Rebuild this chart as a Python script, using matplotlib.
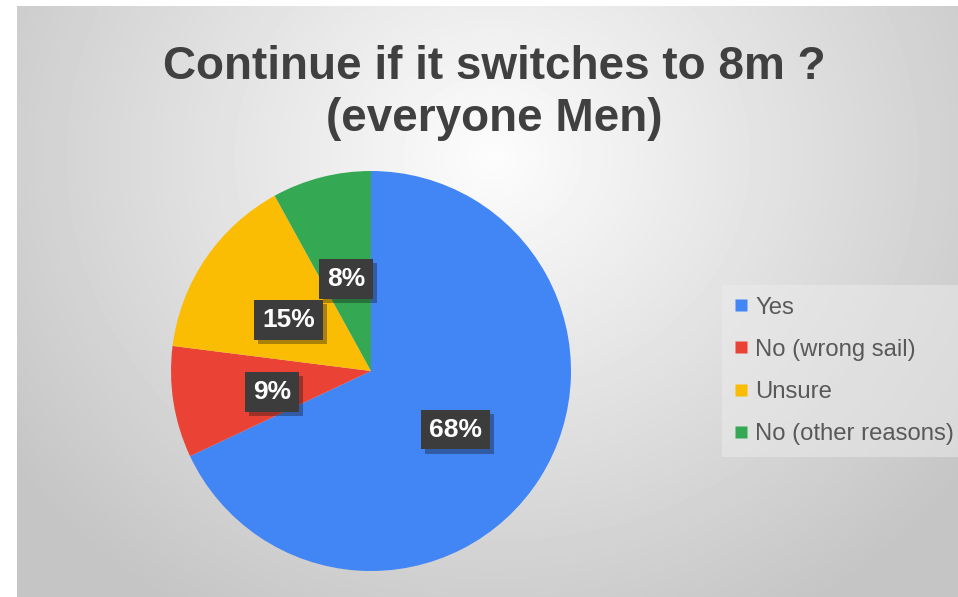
import numpy as np
import matplotlib.pyplot as plt
from matplotlib.lines import Line2D
import matplotlib.patheffects as pe

plt.rcParams['font.family'] = ['Liberation Sans', 'DejaVu Sans']

# data
labels = ["Yes", "No (wrong sail)", "Unsure", "No (other reasons)"]
values = [68, 9, 15, 8]
colors = ["#4285F4", "#EA4335", "#FBBC04", "#34A853"]
title = "Continue if it switches to 8m ?\n(everyone Men)"

W, H = 958, 597
fig = plt.figure(figsize=(W / 100, H / 100), dpi=100)
fig.patch.set_facecolor("white")

# radial gray background
bg = fig.add_axes([17 / W, 0, (W - 17) / W, (H - 6) / H])
bg.set_axis_off()
yy, xx = np.mgrid[0:591, 0:941]
d = np.sqrt(((xx - 475) / 620.0) ** 2 + ((yy - 150) / 560.0) ** 2)
shade = np.clip(0.99 - 0.23 * d, 0.77, 0.99)
bg.imshow(shade, cmap="gray", vmin=0, vmax=1, aspect="auto", interpolation="bilinear")

# pie
ax = fig.add_axes([171 / W, (H - 571) / H, 400 / W, 400 / H])
wedges, _, autotexts = ax.pie(values, colors=colors, startangle=90, counterclock=False,
                              radius=1, autopct="%1.0f%%", pctdistance=0.5,
                              textprops=dict(color="white", fontsize=19, fontweight="bold"))
ax.set_xlim(-1, 1)
ax.set_ylim(-1, 1)
ax.set_aspect("equal")
ax.set_axis_off()
for t in autotexts:
    x, y = t.get_position()
    t.set_position((x, y - 0.025))
    t.set_bbox(dict(boxstyle="square,pad=0.3", facecolor="#3c3c3c", edgecolor="none"))
    t.get_bbox_patch().set_path_effects([pe.SimplePatchShadow(offset=(3, -3), alpha=0.35),
                                         pe.Normal()])

# title
fig.text(494 / W, 1 - 93 / H, title, ha="center", va="center", fontsize=33,
         fontweight="bold", color="#404040", linespacing=1.25)

# legend
handles = [Line2D([], [], marker="s", linestyle="none", markersize=8.5,
                  markerfacecolor=c, markeredgecolor="none") for c in colors]
leg = fig.legend(handles, labels, loc="center left", bbox_to_anchor=(722 / W, 1 - 371 / H),
                 frameon=True, fontsize=17.2, labelspacing=0.85, handlelength=0.6,
                 handletextpad=0.3, borderpad=0.5, borderaxespad=0, fancybox=False)
leg.get_frame().set_facecolor("#ececec")
leg.get_frame().set_edgecolor("none")
leg.get_frame().set_alpha(0.5)
for txt in leg.get_texts():
    txt.set_color("#595959")

fig.savefig("out.png", dpi=100)
